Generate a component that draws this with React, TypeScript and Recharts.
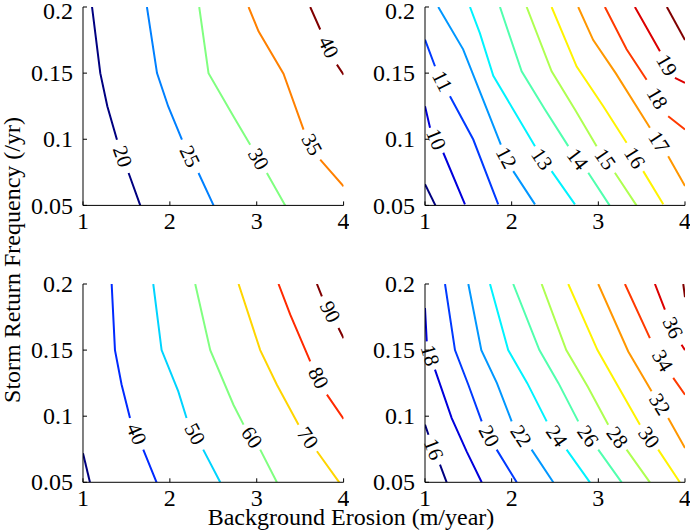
import React from 'react';
import { LineChart, Line, XAxis, YAxis, ReferenceDot } from 'recharts';

type Pt = [number, number] | null;
type Lbl = { text: string; x: number; y: number; angle: number };

const FONT = '"Liberation Serif", "Times New Roman", serif';
const xTicks = [1, 2, 3, 4];
const yTicks = [0.05, 0.1, 0.15, 0.2];

// top-left panel, contour levels 20..40
const tlLevels = [20, 25, 30, 35, 40];
const tlLines: Pt[][] = [
  [[1.104, 0.2], [1.199, 0.15], [1.28, 0.125], [1.391, 0.0997], null, [1.525, 0.0745], [1.659, 0.05]],
  [[1.736, 0.2], [1.852, 0.15], [1.98, 0.125], [2.139, 0.0997], null, [2.33, 0.0745], [2.503, 0.05]],
  [[2.338, 0.2], [2.445, 0.15], [2.733, 0.1173], [2.925, 0.0959], null, [3.117, 0.0745], [3.328, 0.05]],
  [[2.906, 0.2], [3.021, 0.1816], [3.308, 0.1496], [3.539, 0.1073], null, [3.731, 0.0846], [4.0, 0.0644]],
  [[3.616, 0.2], [3.731, 0.183], null, [3.923, 0.1564], [4.0, 0.1488]],
];
const tlLabels: Lbl[] = [
  { text: '20', x: 1.455, y: 0.087, angle: 71 },
  { text: '25', x: 2.23, y: 0.087, angle: 64 },
  { text: '30', x: 3.02, y: 0.085, angle: 60 },
  { text: '35', x: 3.635, y: 0.096, angle: 61 },
  { text: '40', x: 3.827, y: 0.1697, angle: 64 },
];

// top-right panel, contour levels 9..20
const trLevels = [9, 10, 11, 12, 13, 14, 15, 16, 17, 18, 19, 20];
const trLines: Pt[][] = [
  [[1, 0.066], [1.12, 0.05]],
  [[1, 0.125], [1.058, 0.1087], null, [1.211, 0.0898], [1.461, 0.0508]],
  [[1, 0.1753], [1.115, 0.1552], null, [1.288, 0.1325], [1.557, 0.0998], [1.845, 0.0508]],
  [[1.153, 0.2], [1.44, 0.168], [1.67, 0.13], [1.875, 0.096], null, [2.018, 0.0759], [2.269, 0.0508]],
  [[1.519, 0.2], [1.634, 0.18], [1.788, 0.148], [2.018, 0.1225], [2.269, 0.0948], null, [2.461, 0.0759], [2.73, 0.0508]],
  [[1.865, 0.2], [2.115, 0.1514], [2.384, 0.1225], [2.653, 0.0948], null, [2.884, 0.0747], [3.13, 0.05]],
  [[2.173, 0.2], [2.461, 0.1514], [2.73, 0.1225], [2.98, 0.0948], null, [3.191, 0.0747], [3.44, 0.05]],
  [[2.461, 0.2], [2.75, 0.155], [3.057, 0.125], [3.326, 0.0973], null, [3.518, 0.0759], [3.749, 0.0508]],
  [[2.768, 0.2], [2.941, 0.175], [3.2, 0.15], [3.595, 0.1087], null, [3.806, 0.0872], [4.0, 0.0646]],
  [[3.076, 0.2], [3.326, 0.168], [3.557, 0.145], null, [3.806, 0.1174], [4.0, 0.1074]],
  [[3.422, 0.2], [3.711, 0.1665], null, [3.884, 0.1464], [4.0, 0.1426]],
  [[3.791, 0.2], [4.0, 0.175]],
];
const trLabels: Lbl[] = [
  { text: '10', x: 1.13, y: 0.1, angle: 68 },
  { text: '11', x: 1.2, y: 0.144, angle: 63 },
  { text: '12', x: 1.94, y: 0.086, angle: 62 },
  { text: '13', x: 2.35, y: 0.085, angle: 56 },
  { text: '14', x: 2.76, y: 0.085, angle: 53 },
  { text: '15', x: 3.08, y: 0.085, angle: 55 },
  { text: '16', x: 3.42, y: 0.086, angle: 58 },
  { text: '17', x: 3.7, y: 0.098, angle: 57 },
  { text: '18', x: 3.68, y: 0.131, angle: 60 },
  { text: '19', x: 3.79, y: 0.156, angle: 60 },
];

// bottom-left panel, contour levels 30..90
const blLevels = [30, 40, 50, 60, 70, 80, 90];
const blLines: Pt[][] = [
  [[1, 0.072], [1.08, 0.05]],
  [[1.33, 0.2], [1.368, 0.15], [1.444, 0.124], [1.541, 0.0986], null, [1.694, 0.0747], [1.847, 0.05]],
  [[1.809, 0.2], [1.905, 0.15], [2.097, 0.1188], [2.192, 0.0986], null, [2.384, 0.0747], [2.58, 0.05]],
  [[2.292, 0.2], [2.465, 0.15], [2.733, 0.1085], [2.848, 0.0936], null, [3.04, 0.0747], [3.232, 0.05]],
  [[2.791, 0.2], [3.04, 0.15], [3.232, 0.1238], [3.481, 0.0936], null, [3.693, 0.0735], [3.95, 0.05]],
  [[3.251, 0.2], [3.386, 0.1768], [3.616, 0.1415], null, [3.808, 0.1163], [4.0, 0.098]],
  [[3.693, 0.2], [3.75, 0.1907], null, [3.941, 0.1667], [4.0, 0.159]],
];
const blLabels: Lbl[] = [
  { text: '40', x: 1.617, y: 0.0866, angle: 67 },
  { text: '50', x: 2.288, y: 0.0866, angle: 62 },
  { text: '60', x: 2.944, y: 0.084, angle: 56 },
  { text: '70', x: 3.587, y: 0.0836, angle: 55 },
  { text: '80', x: 3.712, y: 0.129, angle: 63 },
  { text: '90', x: 3.846, y: 0.179, angle: 64 },
];

// bottom-right panel, contour levels 16..38
const brLevels = [16, 18, 20, 22, 24, 26, 28, 30, 32, 34, 36, 38];
const brLines: Pt[][] = [
  [[1, 0.0936], [1.04, 0.086], null, [1.173, 0.0633], [1.25, 0.05]],
  [[1, 0.1818], [1.02, 0.1566], null, [1.115, 0.1352], [1.308, 0.0986], [1.48, 0.0734], [1.654, 0.05]],
  [[1.231, 0.2], [1.346, 0.15], [1.5, 0.1238], [1.654, 0.0961], null, [1.827, 0.0747], [2.058, 0.05]],
  [[1.5, 0.2], [1.65, 0.15], [1.83, 0.125], [2.0, 0.0961], null, [2.23, 0.0747], [2.48, 0.05]],
  [[1.75, 0.2], [1.96, 0.15], [2.18, 0.125], [2.404, 0.0961], null, [2.634, 0.0747], [2.903, 0.05]],
  [[2.018, 0.2], [2.32, 0.15], [2.54, 0.125], [2.768, 0.0961], null, [2.999, 0.0747], [3.269, 0.05]],
  [[2.346, 0.2], [2.63, 0.15], [2.88, 0.122], [3.114, 0.0936], null, [3.326, 0.0747], [3.595, 0.05]],
  [[2.653, 0.2], [2.99, 0.15], [3.25, 0.12], [3.48, 0.0936], null, [3.691, 0.0747], [3.94, 0.05]],
  [[2.999, 0.2], [3.345, 0.149], [3.614, 0.1188], null, [3.806, 0.0986], [4.0, 0.076]],
  [[3.307, 0.2], [3.595, 0.159], null, [3.864, 0.129], [4.0, 0.1163]],
  [[3.653, 0.2], [3.768, 0.1806], null, [3.96, 0.154], [4.0, 0.15]],
  [[3.98, 0.2], [4.0, 0.19]],
];
const brLabels: Lbl[] = [
  { text: '16', x: 1.1, y: 0.075, angle: 69 },
  { text: '18', x: 1.06, y: 0.146, angle: 74 },
  { text: '20', x: 1.74, y: 0.085, angle: 62 },
  { text: '22', x: 2.11, y: 0.085, angle: 57 },
  { text: '24', x: 2.52, y: 0.085, angle: 55 },
  { text: '26', x: 2.88, y: 0.085, angle: 55 },
  { text: '28', x: 3.22, y: 0.084, angle: 54 },
  { text: '30', x: 3.585, y: 0.084, angle: 54 },
  { text: '32', x: 3.71, y: 0.109, angle: 58 },
  { text: '34', x: 3.74, y: 0.142, angle: 60 },
  { text: '36', x: 3.86, y: 0.167, angle: 64 },
];

// matlab jet colormap
const jet = (t: number) => {
  const c = (v: number) => Math.round(255 * Math.min(1, Math.max(0, v)));
  return `rgb(${c(1.5 - Math.abs(4 * t - 3))},${c(1.5 - Math.abs(4 * t - 2))},${c(1.5 - Math.abs(4 * t - 1))})`;
};

const toData = (pts: Pt[]) => {
  let lastX = 1;
  return pts.map((p) => {
    if (!p) return { x: lastX, y: null };
    lastX = p[0];
    return { x: p[0], y: p[1] };
  });
};

const TOP = 20; // room above each plot for the top tick label

const XTick = (p: any) => (
  <text x={p.x} y={p.y} dy="0.71em" textAnchor="middle" fontSize={24} fontFamily={FONT} fill="#000">
    {p.payload.value}
  </text>
);

// the top row's "0.2" sits a little lower in the original (page edge)
const makeYTick = (minY: number) => (p: any) => (
  <text x={p.x} y={Math.max(p.y, minY)} dy="0.34em" textAnchor="end" fontSize={24} fontFamily={FONT} fill="#000">
    {p.payload.value}
  </text>
);

type PanelProps = {
  left: number;
  top: number;
  width: number;
  height: number;
  levels: number[];
  lines: Pt[][];
  labels: Lbl[];
  minTickY?: number;
};

const Panel: React.FC<PanelProps> = ({ left, top, width, height, levels, lines, labels, minTickY = 0 }) => {
  const n = levels.length - 1;
  return (
    <div style={{ position: 'absolute', left: left - 80, top: top - TOP, fontFamily: FONT }}>
      <LineChart
        width={80 + width + 6}
        height={TOP + height + 40}
        margin={{ top: TOP, right: 6, bottom: 0, left: 0 }}
      >
        <XAxis
          xAxisId="b"
          type="number"
          dataKey="x"
          domain={[1, 4]}
          ticks={xTicks}
          allowDataOverflow
          height={40}
          tickSize={-4}
          tickMargin={11}
          stroke="#000"
          tick={XTick}
        />
        <XAxis
          xAxisId="t"
          orientation="top"
          type="number"
          dataKey="x"
          domain={[1, 4]}
          ticks={xTicks}
          allowDataOverflow
          height={0}
          tickSize={-4}
          tick={false}
          stroke="#000"
        />
        <YAxis
          yAxisId="l"
          type="number"
          domain={[0.05, 0.2]}
          ticks={yTicks}
          allowDataOverflow
          width={80}
          tickSize={-4}
          tickMargin={14}
          stroke="#000"
          tick={makeYTick(minTickY)}
        />
        <YAxis
          yAxisId="r"
          orientation="right"
          type="number"
          domain={[0.05, 0.2]}
          ticks={yTicks}
          allowDataOverflow
          width={0}
          tickSize={-4}
          tick={false}
          stroke="#000"
        />
        {lines.map((pts, i) => (
          <Line
            key={`c${levels[i]}`}
            xAxisId="b"
            yAxisId="l"
            data={toData(pts)}
            dataKey="y"
            stroke={jet(i / n)}
            strokeWidth={2}
            dot={false}
            activeDot={false}
            isAnimationActive={false}
          />
        ))}
        {labels.map((lb) => (
          <ReferenceDot
            key={`l${lb.text}`}
            xAxisId="b"
            yAxisId="l"
            x={lb.x}
            y={lb.y}
            r={0}
            shape={(p: any) => (
              <text
                x={p.cx}
                y={p.cy}
                textAnchor="middle"
                dominantBaseline="central"
                transform={`rotate(${lb.angle}, ${p.cx}, ${p.cy})`}
                fontSize={21}
                fontFamily={FONT}
                fill="#000"
              >
                {lb.text}
              </text>
            )}
          />
        ))}
      </LineChart>
    </div>
  );
};

export default function App() {
  return (
    <div style={{ position: 'absolute', left: 0, top: 0, width: 690, height: 531, background: '#fff', overflow: 'hidden' }}>
      <Panel left={82.7} top={7.3} width={260.6} height={198.4} levels={tlLevels} lines={tlLines} labels={tlLabels} minTickY={TOP + 4} />
      <Panel left={425} top={7.3} width={260} height={198.4} levels={trLevels} lines={trLines} labels={trLabels} minTickY={TOP + 4} />
      <Panel left={82.7} top={284} width={260.6} height={198.3} levels={blLevels} lines={blLines} labels={blLabels} />
      <Panel left={425} top={284} width={260} height={198.3} levels={brLevels} lines={brLines} labels={brLabels} />
      <svg width={690} height={531} style={{ position: 'absolute', left: 0, top: 0, pointerEvents: 'none' }}>
        <text x={351} y={525} textAnchor="middle" fontSize={24} fontFamily={FONT} fill="#000">
          Background Erosion (m/year)
        </text>
        <text
          x={20}
          y={260}
          textAnchor="middle"
          transform="rotate(-90, 20, 260)"
          fontSize={24}
          fontFamily={FONT}
          fill="#000"
        >
          Storm Return Frequency (/yr)
        </text>
      </svg>
    </div>
  );
}
